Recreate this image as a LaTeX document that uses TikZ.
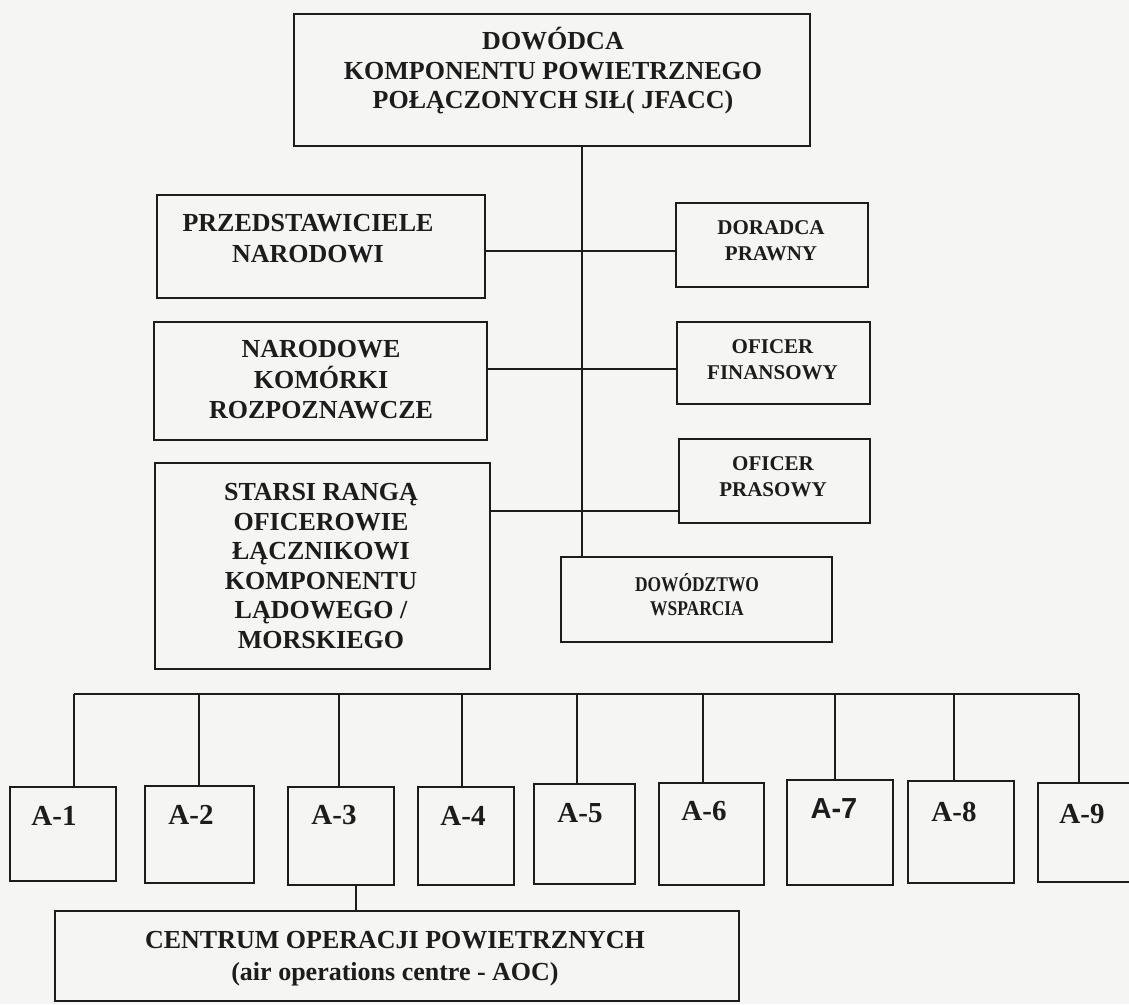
\documentclass[tikz,border=0pt]{standalone}
\usepackage{fontspec}
\setmainfont{Liberation Serif}
\newfontfamily\sansfam{Liberation Sans}
\newfontfamily\narrowfam{Liberation Serif}[FakeStretch=0.83]
\definecolor{ink}{RGB}{28,28,28}
\definecolor{paper}{RGB}{245,245,243}
\begin{document}
\begin{tikzpicture}[x=1pt,y=-1pt,
  box/.style={draw=ink, line width=2.4pt, rectangle, inner sep=0pt},
  link/.style={draw=ink, line width=2pt},
  txt/.style={text=ink, align=center, inner sep=0pt},
  big/.style={txt, font=\fontsize{26}{29.5}\selectfont\bfseries},
  small/.style={txt, font=\fontsize{21}{26}\selectfont\bfseries},
  tag/.style={txt, font=\fontsize{29}{30}\selectfont\bfseries},
]
\useasboundingbox (0,0) rectangle (1129,1004);
\clip (0,0) rectangle (1129,1004);
\fill[paper] (0,0) rectangle (1129,1004);

% upper boxes
\node[box, minimum width=516, minimum height=132] (top) at (552,80) {};
\node[box, minimum width=328, minimum height=103] (prz) at (321,246.5) {};
\node[box, minimum width=333, minimum height=118] (nar) at (320.5,381) {};
\node[box, minimum width=335, minimum height=206] (sta) at (322.5,566) {};
\node[box, minimum width=192, minimum height=84] (dor) at (772,245) {};
\node[box, minimum width=193, minimum height=82] (fin) at (773.5,363) {};
\node[box, minimum width=191, minimum height=84] (pra) at (774.5,481) {};
\node[box, minimum width=271, minimum height=85] (dws) at (696.5,599.5) {};

% staff sections
\node[box, minimum width=106, minimum height=94]  (a1) at (63,834) {};
\node[box, minimum width=109, minimum height=97]  (a2) at (199.5,834.5) {};
\node[box, minimum width=106, minimum height=98]  (a3) at (341,836) {};
\node[box, minimum width=96,  minimum height=98]  (a4) at (466,836) {};
\node[box, minimum width=101, minimum height=100] (a5) at (584.5,834) {};
\node[box, minimum width=105, minimum height=102] (a6) at (711.5,834) {};
\node[box, minimum width=106, minimum height=105] (a7) at (840,832.5) {};
\node[box, minimum width=106, minimum height=102] (a8) at (961,832) {};
\node[box, minimum width=102, minimum height=99]  (a9) at (1089,832.5) {};
\node[box, minimum width=684, minimum height=90]  (aoc) at (397,956) {};

% texts
\node[big] (topt) at (553,71) {DOWÓDCA\\KOMPONENTU POWIETRZNEGO\\POŁĄCZONYCH SIŁ( JFACC)};
\node[big, font=\fontsize{26}{31}\selectfont\bfseries] (przt) at (308,239) {PRZEDSTAWICIELE\\NARODOWI};
\node[big, font=\fontsize{26}{30.5}\selectfont\bfseries] (nart) at (321,380) {NARODOWE\\KOMÓRKI\\ROZPOZNAWCZE};
\node[big, font=\fontsize{26}{29.5}\selectfont\bfseries] (stat) at (321,566) {STARSI RANGĄ\\OFICEROWIE\\ŁĄCZNIKOWI\\KOMPONENTU\\LĄDOWEGO /\\MORSKIEGO};
\node[small] (dort) at (771,241) {DORADCA\\PRAWNY};
\node[small] (fint) at (772.5,360) {OFICER\\FINANSOWY};
\node[small] (prat) at (773,477) {OFICER\\PRASOWY};
\node[small, font=\fontsize{21}{24}\selectfont\narrowfam\bfseries] (dwst) at (697,595) {DOWÓDZTWO\\WSPARCIA};
\node[tag] (a1t) at (54,816) {A-1};
\node[tag] (a2t) at (191,815) {A-2};
\node[tag] (a3t) at (334,815) {A-3};
\node[tag] (a4t) at (463,816) {A-4};
\node[tag] (a5t) at (580,813) {A-5};
\node[tag] (a6t) at (704,811) {A-6};
\node[tag, font=\fontsize{29}{30}\selectfont\sansfam\bfseries] (a7t) at (834,809) {A-7};
\node[tag] (a8t) at (954,812) {A-8};
\node[tag] (a9t) at (1082,814) {A-9};
\node[big, font=\fontsize{26}{32}\selectfont\bfseries] (aoct) at (395,959) {CENTRUM OPERACJI POWIETRZNYCH\\(air operations centre - AOC)};

% connectors
\coordinate (spine) at (582,300);
\coordinate (br1) at (582,251);
\coordinate (br2) at (582,369);
\coordinate (br3) at (582,511);
\draw[link] (top.south -| spine) -- (dws.north -| spine);
\draw[link] (prz.east |- br1) -- (dor.west |- br1);
\draw[link] (nar.east |- br2) -- (fin.west |- br2);
\draw[link] (sta.east |- br3) -- (pra.west |- br3);

\coordinate (b1) at (74,694);
\coordinate (b2) at (199,694);
\coordinate (b3) at (339,694);
\coordinate (b4) at (462,694);
\coordinate (b5) at (577,694);
\coordinate (b6) at (703,694);
\coordinate (b7) at (835,694);
\coordinate (b8) at (954,694);
\coordinate (b9) at (1079,694);
\draw[link] (b1) -- (b9);
\foreach \i in {1,...,9} {
  \draw[link] (b\i) -- (b\i |- a\i.north);
}
\coordinate (aocx) at (356,900);
\draw[link] (a3.south -| aocx) -- (aoc.north -| aocx);
\end{tikzpicture}
\end{document}
